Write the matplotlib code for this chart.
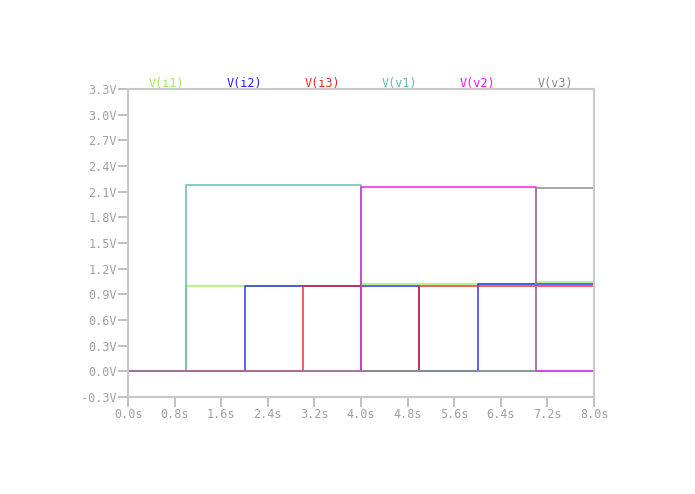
import matplotlib.pyplot as plt

# breakpoints (s) and levels (V); each level holds until the next time
t_i1 = [0, 1, 4, 7, 8]
y_i1 = [0, 1.0, 1.02, 1.04, 1.04]
t_i2 = [0, 2, 5, 6, 8]
y_i2 = [0, 1.0, 0, 1.02, 1.02]
t_i3 = [0, 3, 4, 5, 8]
y_i3 = [0, 1.0, 0, 1.0, 1.0]
t_v1 = [0, 1, 4, 8]
y_v1 = [0, 2.18, 0, 0]
t_v2 = [0, 4, 7, 8]
y_v2 = [0, 2.15, 0, 0]
t_v3 = [0, 7, 8]
y_v3 = [0, 2.14, 2.14]

names = ['V(i1)', 'V(i2)', 'V(i3)', 'V(v1)', 'V(v2)', 'V(v3)']
colors = ['#99ee55', '#2222ff', '#ee2222', '#5cb8b0', '#ee11ee', '#888888']
series = [(t_i1, y_i1), (t_i2, y_i2), (t_i3, y_i3),
          (t_v1, y_v1), (t_v2, y_v2), (t_v3, y_v3)]

xticks = [0.0, 0.8, 1.6, 2.4, 3.2, 4.0, 4.8, 5.6, 6.4, 7.2, 8.0]
yticks = [-0.3, 0.0, 0.3, 0.6, 0.9, 1.2, 1.5, 1.8, 2.1, 2.4, 2.7, 3.0, 3.3]

plt.rcParams['font.family'] = ['DejaVu Sans Mono']
fig = plt.figure(figsize=(6.95, 4.94), dpi=100)
ax = fig.add_axes([0.1842, 0.1964, 0.6705, 0.6234])

for (t, y), c in zip(series, colors):
    ax.step(t, y, where='post', color=c, lw=1.2, alpha=0.85)

ax.set_xlim(0, 8)
ax.set_ylim(-0.3, 3.3)
ax.set_xticks(xticks)
ax.set_xticklabels(['%.1fs' % v for v in xticks])
ax.set_yticks(yticks)
ax.set_yticklabels(['%.1fV' % v for v in yticks])
ax.tick_params(colors='#bbbbbb', labelcolor='#a0a0a0', labelsize=8.5,
               length=7, width=1.3, direction='out', pad=1)
for s in ax.spines.values():
    s.set_color('#c8c8c8')
    s.set_linewidth(1.5)

for k, (n, c) in enumerate(zip(names, colors)):
    ax.text((k + 0.5) / 6, 0.998, n, color=c, transform=ax.transAxes,
            ha='center', va='bottom', fontsize=8.5)

fig.savefig('out.png', dpi=100)
